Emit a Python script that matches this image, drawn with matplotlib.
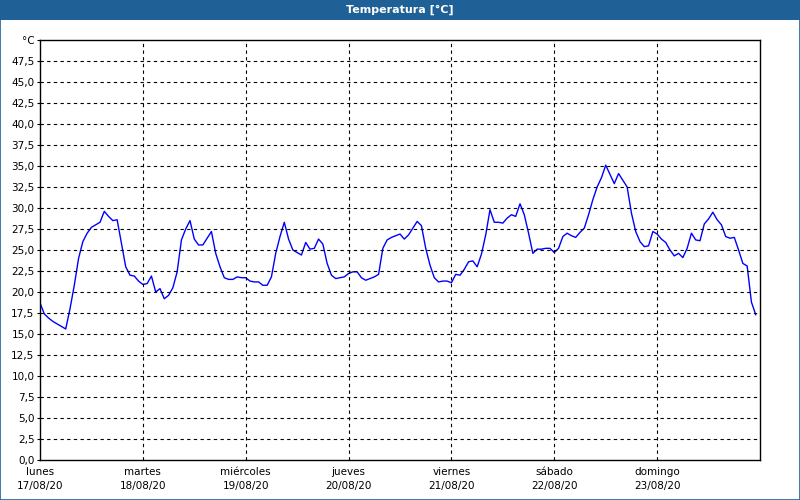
import numpy as np
import matplotlib.pyplot as plt
from matplotlib.patches import Rectangle

# hourly temperature readings, 17/08/20 00:00 -> 23/08/20 23:00
temp = [
    18.7, 17.4, 16.9, 16.5, 16.2, 15.9, 15.6, 18.0, 20.8, 24.0, 26.0, 27.0,
    27.7, 28.0, 28.3, 29.6, 29.0, 28.5, 28.6, 25.8, 23.0, 22.0, 21.9, 21.3,
    20.9, 21.0, 21.9, 20.0, 20.4, 19.2, 19.6, 20.5, 22.4, 26.2, 27.5, 28.5,
    26.3, 25.6, 25.6, 26.4, 27.2, 24.6, 23.0, 21.7, 21.5, 21.5, 21.8, 21.7,
    21.7, 21.3, 21.2, 21.2, 20.8, 20.8, 21.8, 24.6, 26.6, 28.3, 26.3, 25.0,
    24.7, 24.4, 25.9, 25.1, 25.2, 26.3, 25.7, 23.4, 22.0, 21.6, 21.7, 21.8,
    22.2, 22.4, 22.4, 21.7, 21.4, 21.6, 21.8, 22.1, 25.2, 26.2, 26.5, 26.7,
    26.9, 26.3, 26.8, 27.6, 28.4, 27.9, 25.2, 23.2, 21.7, 21.2, 21.3, 21.3,
    21.1, 22.1, 22.0, 22.7, 23.6, 23.7, 23.0, 24.5, 26.8, 29.8, 28.3, 28.3,
    28.2, 28.8, 29.2, 29.0, 30.5, 29.2, 27.0, 24.6, 25.1, 25.1, 25.2, 25.2,
    24.7, 25.2, 26.6, 27.0, 26.7, 26.5, 27.1, 27.6, 29.2, 31.0, 32.5, 33.6,
    35.1, 34.0, 32.9, 34.1, 33.3, 32.5, 29.4, 27.2, 26.0, 25.4, 25.5, 27.2,
    26.9, 26.3, 25.9, 25.0, 24.3, 24.6, 24.1, 25.2, 27.0, 26.2, 26.1, 28.1,
    28.7, 29.5, 28.6, 28.0, 26.6, 26.4, 26.5, 25.0, 23.4, 23.1, 18.8, 17.3,
]
days = ['lunes', 'martes', 'miércoles', 'jueves', 'viernes', 'sábado', 'domingo']
dates = ['17/08/20', '18/08/20', '19/08/20', '20/08/20', '21/08/20', '22/08/20', '23/08/20']

blue = '#1f6197'
hours = np.arange(len(temp)) / 24.0

fig = plt.figure(figsize=(8, 5), dpi=100)
fig.patch.set_facecolor('white')
ax = fig.add_axes([0.05, 0.08, 0.9, 0.84])

ax.plot(hours, temp, color='#0000ff', lw=1)

ax.set_xlim(0, 7)
ax.set_ylim(0, 50)

yt = np.arange(0, 50.1, 2.5)
ax.set_yticks(yt)
ylabels = [('%.1f' % v).replace('.', ',') for v in yt]
ylabels[-1] = '°C'
ax.set_yticklabels(ylabels, fontsize=7.5)
ax.set_xticks(range(7))
ax.set_xticklabels([d + '\n' + dt for d, dt in zip(days, dates)], fontsize=7.5, linespacing=1.5)
ax.tick_params(axis='y', length=2, pad=2)
ax.tick_params(axis='x', length=0, pad=5)

for v in yt[1:-1]:
    ax.axhline(v, color='black', lw=0.8, ls=(0, (3, 3)))
for d in range(1, 7):
    ax.axvline(d, color='black', lw=0.8, ls=(0, (3, 3)))
for s in ax.spines.values():
    s.set_color('black')
    s.set_linewidth(1)

# title bar and frame
fig.patches.append(Rectangle((0, 0.96), 1, 0.04, transform=fig.transFigure,
                             facecolor=blue, edgecolor='none', zorder=0))
fig.patches.append(Rectangle((0.0006, 0.001), 0.9988, 0.998, transform=fig.transFigure,
                             facecolor='none', edgecolor=blue, lw=1.2, zorder=5))
fig.text(0.5, 0.98, 'Temperatura [°C]', color='white', fontsize=8, fontweight='bold',
         ha='center', va='center')

fig.savefig('out.png', dpi=100)
